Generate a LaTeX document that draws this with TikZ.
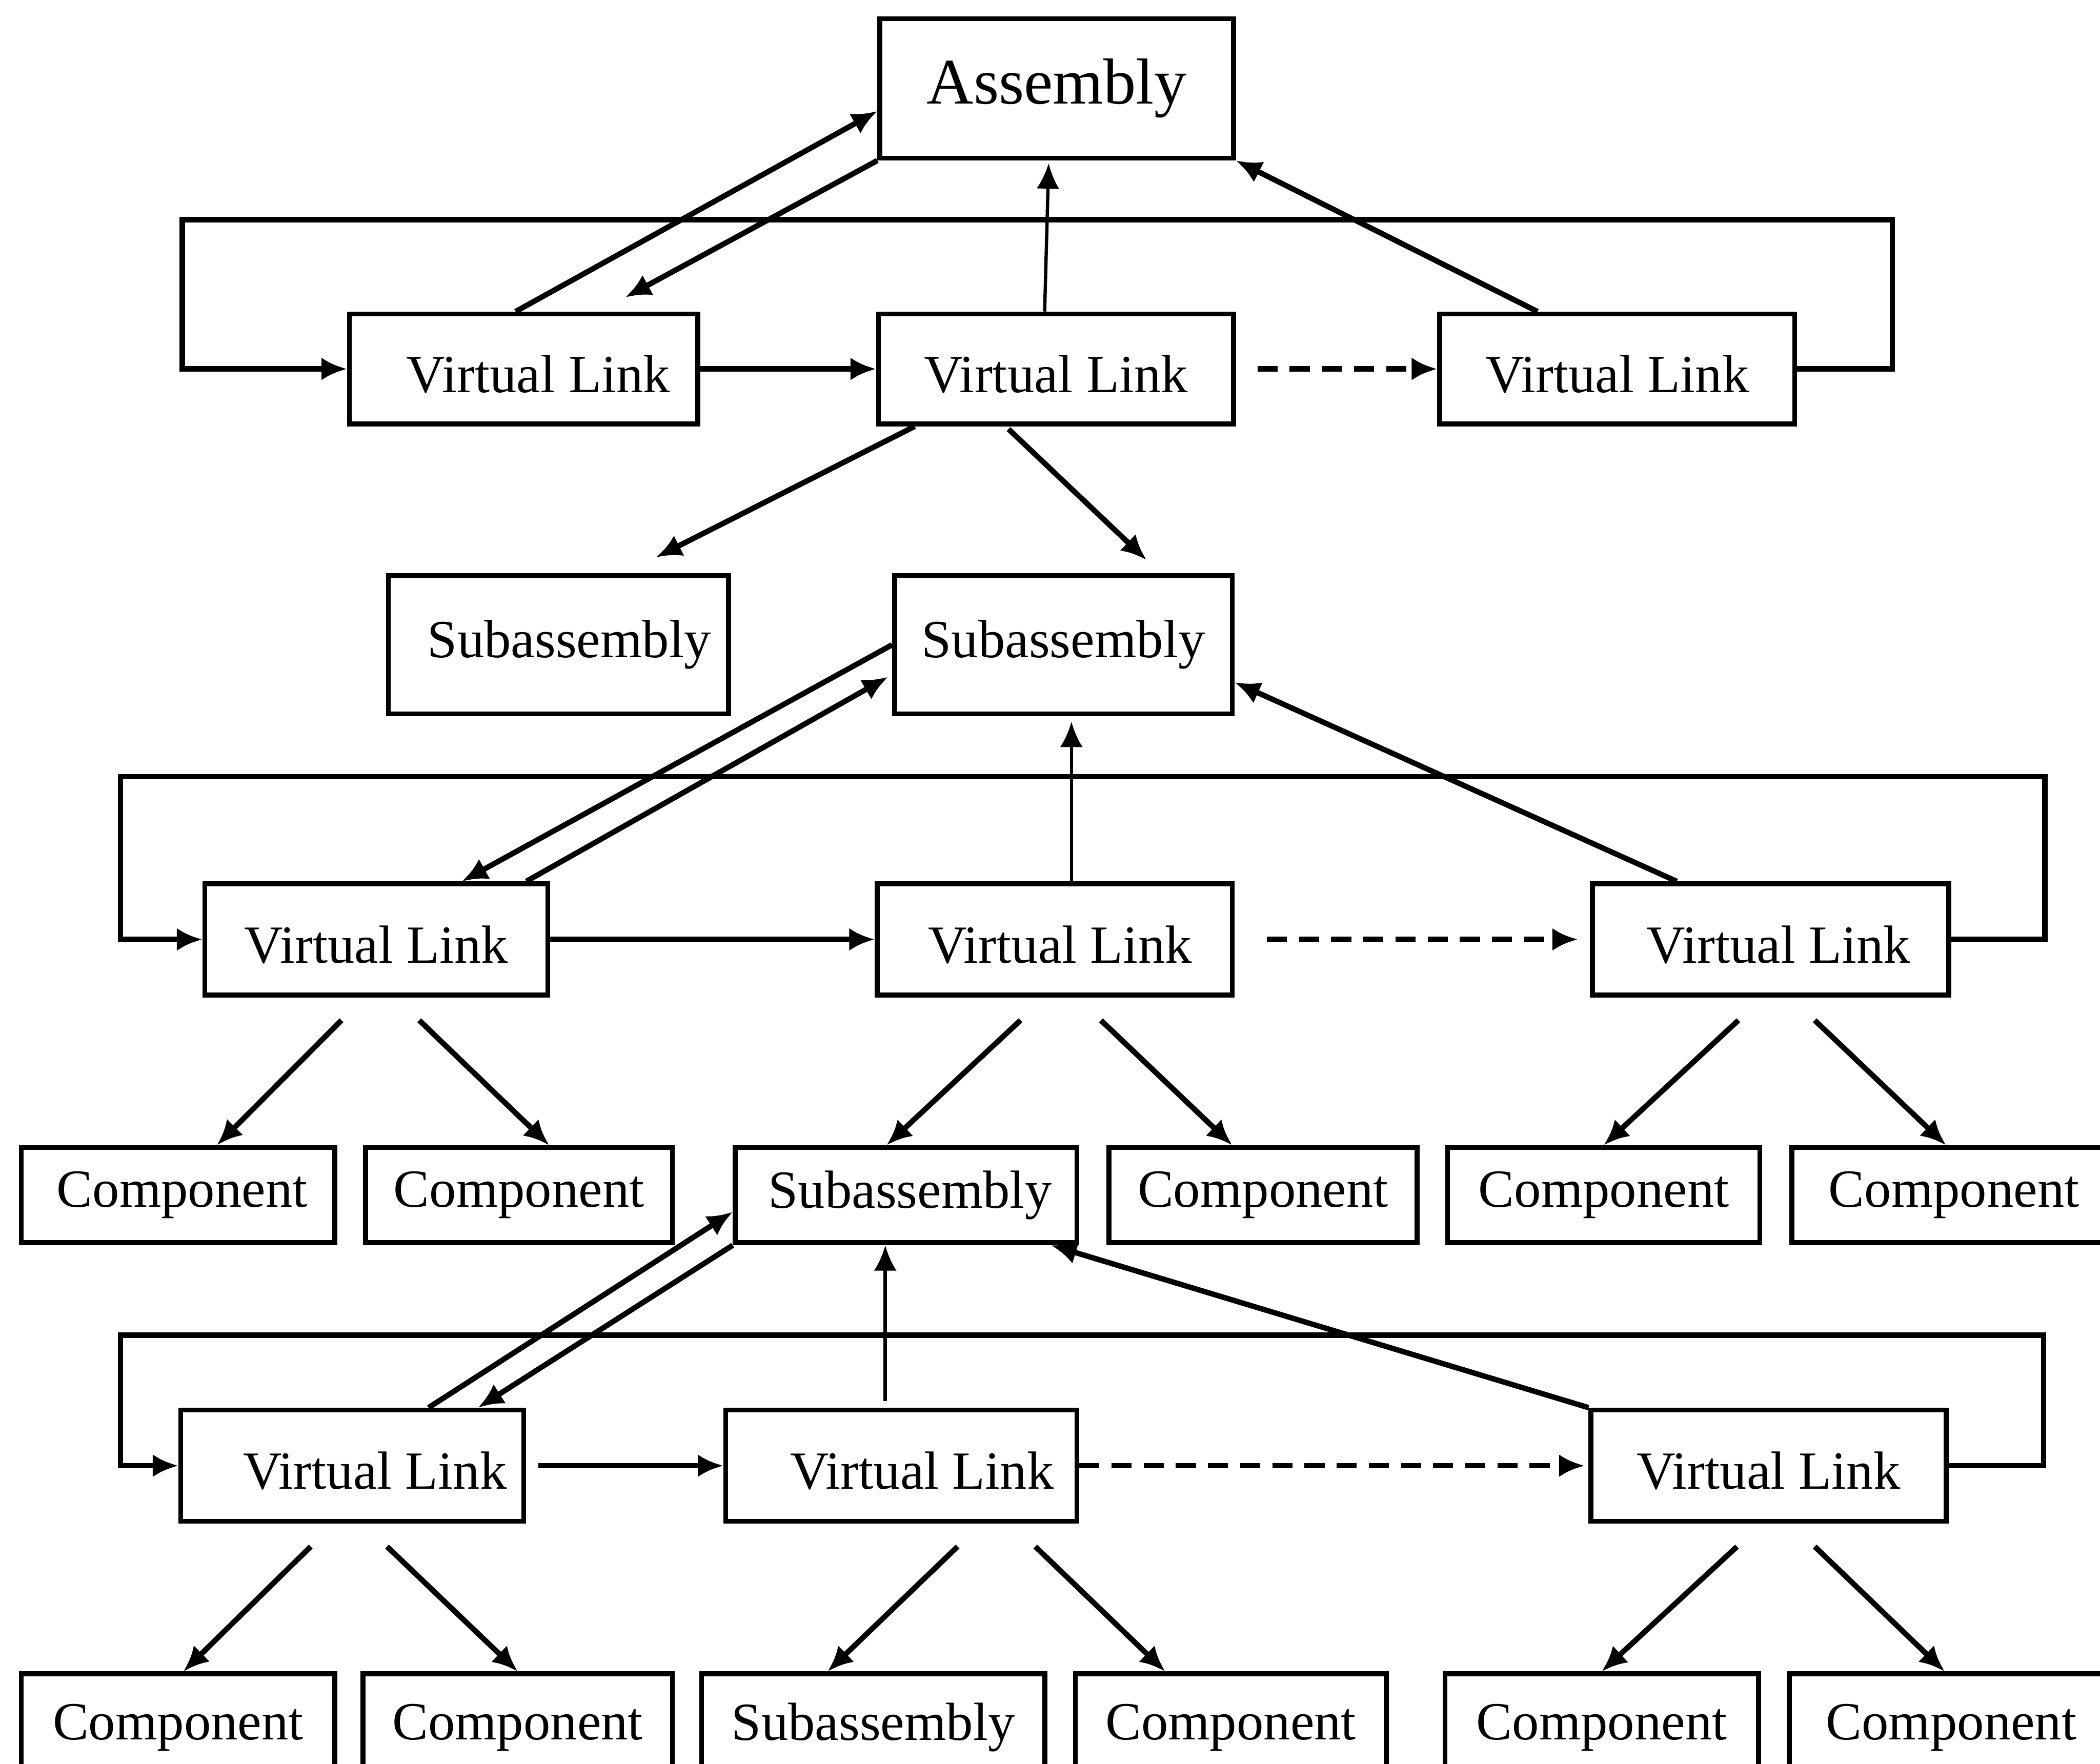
\documentclass[tikz,border=0pt]{standalone}
\usepackage{fontspec}
\setmainfont{Liberation Serif}
\usetikzlibrary{arrows.meta,calc}
\begin{document}
\begin{tikzpicture}[x=0.01cm,y=-0.01cm,
  box/.style={draw,line width=1.05pt,inner sep=0pt,font=\fontsize{11.4}{13}\selectfont},
  link/.style={box,minimum height=0.82cm,text height=0.35cm,text depth=0cm},
  part/.style={box,minimum height=0.71cm},
  arr/.style={line width=1.15pt,-{Latex[length=0.19cm,width=0.17cm]}},
  thinarr/.style={arr,line width=0.7pt},
  dasharr/.style={arr,dash pattern=on 0.15cm off 0.09cm}
]
\useasboundingbox (0,0) rectangle (1568,1317);
\clip (0,0) rectangle (1568,1317);

% ---- top level
\node[box,minimum width=2.64cm,minimum height=1.04cm,font=\fontsize{13.8}{16}\selectfont] (asm) at (789,66) {Assembly};

\node[link,minimum width=2.60cm] (vl1a) at (391,275.5) {\hspace*{0.22cm}Virtual Link};
\node[link,minimum width=2.65cm] (vl1b) at (788.5,275.5) {Virtual Link};
\node[link,minimum width=2.65cm] (vl1c) at (1207.5,275.5) {Virtual Link};

\node[box,minimum width=2.54cm,minimum height=1.03cm] (sub1) at (417,481.5) {\hspace*{0.16cm}Subassembly};
\node[box,minimum width=2.52cm,minimum height=1.03cm] (sub2) at (794,481.5) {Subassembly};

% ---- second level
\node[link,minimum width=2.56cm,minimum height=0.83cm] (vl2a) at (281,701.5) {Virtual Link};
\node[link,minimum width=2.65cm,minimum height=0.83cm] (vl2b) at (787.5,701.5) {\hspace*{0.08cm}Virtual Link};
\node[link,minimum width=2.66cm,minimum height=0.83cm] (vl2c) at (1322,701.5) {\hspace*{0.12cm}Virtual Link};

\node[part,minimum width=2.34cm] (c31) at (133,892.5) {\hspace*{0.06cm}Component};
\node[part,minimum width=2.29cm] (c32) at (387.5,892.5) {Component};
\node[part,minimum width=2.55cm] (s33) at (676.5,892.5) {\hspace*{0.06cm}Subassembly};
\node[part,minimum width=2.30cm] (c34) at (943,892.5) {Component};
\node[part,minimum width=2.33cm] (c35) at (1197.5,892.5) {Component};
\node[part,minimum width=2.42cm] (c36) at (1459,892.5) {Component};

% ---- third level
\node[link,minimum width=2.56cm,minimum height=0.83cm] (vl3a) at (263,1094.5) {\hspace*{0.34cm}Virtual Link};
\node[link,minimum width=2.62cm,minimum height=0.83cm] (vl3b) at (673,1094.5) {\hspace*{0.31cm}Virtual Link};
\node[link,minimum width=2.65cm,minimum height=0.83cm] (vl3c) at (1320.5,1094.5) {Virtual Link};

\node[part,minimum width=2.34cm,minimum height=0.80cm] (c41) at (133,1290) {Component};
\node[part,minimum width=2.31cm,minimum height=0.80cm] (c42) at (386.5,1290) {Component};
\node[part,minimum width=2.56cm,minimum height=0.80cm] (s43) at (652,1290) {Subassembly};
\node[part,minimum width=2.32cm,minimum height=0.80cm] (c44) at (919,1290) {Component};
\node[part,minimum width=2.34cm,minimum height=0.80cm] (c45) at (1196,1290) {Component};
\node[part,minimum width=2.42cm,minimum height=0.80cm] (c46) at (1457,1290) {Component};

\coordinate (back1) at (467,222);

% ---- connectors, top level
\draw[arr] (vl1c.east) -- ++(71,0) |- (136,164) |- (vl1a.west);
\draw[arr] (vl1a.east) -- (vl1b.west);
\draw[dasharr,shorten <=0.16cm] (vl1b.east) -- (vl1c.west);
\draw[arr] ($(vl1a.north)+(-6,0)$) -- ($(asm.west)+(0,17)$);
\draw[arr] (asm.south west) -- (back1);
\draw[thinarr] ($(vl1b.north)+(-8.5,0)$) -- ($(asm.south)+(-6,2)$);
\draw[arr] ($(vl1c.north)+(-59.5,0)$) -- (asm.south east);
\draw[arr] ($(vl1b.south)+(-105.5,0)$) -- ($(sub1.north)+(73,-12)$);
\draw[arr] ($(vl1b.south)+(-35.5,2)$) -- ($(sub2.north)+(62,-10)$);

% ---- connectors, second level
\draw[arr] (vl2c.east) -- ++(70,0) |- (90,580) |- (vl2a.west);
\draw[arr] (vl2a.east) -- (vl2b.west);
\draw[dasharr,shorten <=0.24cm,shorten >=0.09cm] (vl2b.east) -- (vl2c.west);
\draw[arr] (sub2.west) -- ($(vl2a.north)+(64,0)$);
\draw[arr] ($(vl2a.north)+(112,0)$) -- ($(sub2.west)+(-3,24)$);
\draw[thinarr] ($(vl2b.north)+(12.5,0)$) -- ($(sub2.south)+(6,4)$);
\draw[arr] ($(vl2c.north)+(-70,0)$) -- ($(sub2.east)+(0,28)$);

\draw[arr] ($(vl2a.south)+(-26,17)$) -- ($(c31.north)+(29,0)$);
\draw[arr] ($(vl2a.south)+(32,17)$) -- ($(c32.north)+(22.5,0)$);
\draw[arr] ($(vl2b.south)+(-25.5,17)$) -- ($(s33.north)+(-14.5,0)$);
\draw[arr] ($(vl2b.south)+(34.5,17)$) -- ($(c34.north)+(-23,0)$);
\draw[arr] ($(vl2c.south)+(-24,17)$) -- (c35.north);
\draw[arr] ($(vl2c.south)+(33,17)$) -- ($(c36.north)+(-6,0)$);

% ---- connectors, third level
\draw[arr] (vl3c.east) -- ++(71,0) |- (90,997) |- (vl3a.west);
\draw[arr,shorten <=0.09cm] (vl3a.east) -- (vl3b.west);
\draw[dasharr,shorten >=0.03cm] (vl3b.east) -- (vl3c.west);
\draw[arr] (s33.south west) -- ($(vl3a.north)+(94,0)$);
\draw[arr] ($(vl3a.north)+(57,0)$) -- ($(s33.west)+(0,12.5)$);
\draw[thinarr] ($(vl3b.north)+(-12,-5)$) -- ($(s33.south)+(-15.5,0)$);
\draw[arr] (vl3c.north west) -- ($(s33.south east)+(-21,0)$);

\draw[arr] ($(vl3a.south)+(-31,17)$) -- ($(c41.north)+(4,0)$);
\draw[arr] ($(vl3a.south)+(26,17)$) -- (c42.north);
\draw[arr] ($(vl3b.south)+(42,17)$) -- ($(s43.north)+(-34,0)$);
\draw[arr] ($(vl3b.south)+(100,17)$) -- ($(c44.north)+(-49,0)$);
\draw[arr] ($(vl3c.south)+(-23.5,17)$) -- (c45.north);
\draw[arr] ($(vl3c.south)+(34.5,17)$) -- ($(c46.north)+(-5,0)$);
\end{tikzpicture}
\end{document}
